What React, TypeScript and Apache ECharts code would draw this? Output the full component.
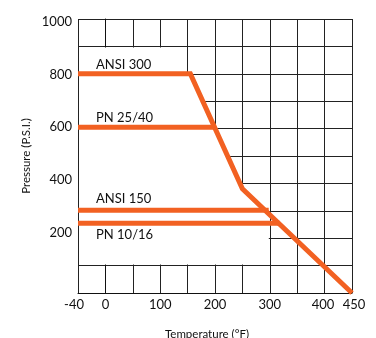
import React, { useEffect, useRef } from 'react';
import * as echarts from 'echarts';

// Temperature (°F) and pressure (P.S.I.)
const ansi300Temp = [-50, 155, 250, 450];
const ansi300Press = [800, 800, 380, 0];
const pn2540Temp = [-50, 199];
const pn2540Press = [605, 605];
const ansi150Temp = [-50, 298];
const ansi150Press = [302, 302];
const pn1016Temp = [-50, 318];
const pn1016Press = [255, 255];

const seriesNames = ['ANSI 300', 'PN 25/40', 'ANSI 150', 'PN 10/16'];

// White area hiding the grid below the curves (data coordinates)
const maskTemp = [-50, 150, 150, 155, 250, 293, 300, 300, -50];
const maskPress = [900, 900, 800, 800, 380, 300, 300, 100, 100];

const xTickValues = [-50, 0, 100, 200, 300, 400, 450];
const xTickTexts = ['-40', '0', '100', '200', '300', '400', '450'];
const yTickValues = [200, 400, 600, 800, 1000];

const ORANGE = '#F26122';
const FONT = 'Lato';

const zip = (a: number[], b: number[]) => a.map((v, i) => [v, b[i]]);

export default function App() {
  const ref = useRef<HTMLDivElement>(null);
  useEffect(() => {
    if (!ref.current) return;
    const chart = echarts.init(ref.current, undefined, { renderer: 'svg' });
    const lines = [
      zip(ansi300Temp, ansi300Press),
      zip(pn2540Temp, pn2540Press),
      zip(ansi150Temp, ansi150Press),
      zip(pn1016Temp, pn1016Press),
    ];
    const richBase = { fontSize: 13, fontFamily: FONT, color: '#111' };
    chart.setOption({
      animation: false,
      grid: { left: 78, right: 24, top: 19, bottom: 45 },
      xAxis: {
        type: 'value',
        min: -50,
        max: 450,
        interval: 50,
        axisLine: { show: true, lineStyle: { color: '#111', width: 1 } },
        axisTick: { show: false },
        splitLine: { show: true, lineStyle: { color: '#222', width: 1 } },
        axisLabel: {
          show: true,
          margin: 4,
          showMinLabel: true,
          showMaxLabel: true,
          fontSize: 13,
          fontFamily: FONT,
          color: '#111',
          formatter: (v: number) => {
            const i = xTickValues.indexOf(v);
            if (i < 0) return '';
            const t = xTickTexts[i];
            if (i === 0) return `{a|${t}}`;
            if (i === xTickValues.length - 2) return `{b|${t}}`;
            if (i === xTickValues.length - 1) return `{c|${t}}`;
            return `{n|${t}}`;
          },
          rich: {
            a: { ...richBase, padding: [0, 8, 0, 0] },
            b: { ...richBase, padding: [0, 3, 0, 0] },
            c: { ...richBase, padding: [0, 0, 0, 4] },
            n: { ...richBase },
          },
        },
      },
      yAxis: [
        {
          type: 'value',
          min: 0,
          max: 1000,
          interval: 100,
          axisLine: { show: true, lineStyle: { color: '#111', width: 1 } },
          axisTick: { show: false },
          axisLabel: { show: false },
          splitLine: { show: true, lineStyle: { color: '#222', width: 1 } },
        },
        {
          type: 'value',
          position: 'left',
          min: -29.5,
          max: 1006.4,
          axisLine: { show: false },
          axisTick: { show: false },
          splitLine: { show: false },
          axisLabel: {
            show: true,
            margin: 6,
            fontSize: 13,
            fontFamily: FONT,
            color: '#111',
            customValues: yTickValues,
            formatter: (v: number) => String(v),
          },
        },
      ],
      series: [
        {
          type: 'custom',
          z: 1,
          silent: true,
          data: [[maskTemp[0], maskPress[0]]],
          renderItem: (_params: any, api: any) => {
            const pts = maskTemp.map((t, i) => {
              const p = api.coord([t, maskPress[i]]);
              let x = p[0];
              let y = p[1];
              if (t === -50) x += 1;
              if (t === 150 || t === 300) x -= 1;
              if (maskPress[i] === 900) y += 1;
              if (maskPress[i] === 100) y -= 1;
              return [x, y];
            });
            return {
              type: 'polygon',
              shape: { points: pts },
              style: { fill: '#ffffff', stroke: null },
            };
          },
        },
        ...lines.map((d, i) => ({
          type: 'line',
          name: seriesNames[i],
          data: d,
          z: 3,
          symbol: 'none',
          lineStyle: { color: ORANGE, width: 5, cap: 'butt', join: 'miter' },
        })),
      ],
    });

    const offsets = [
      [18, -10],
      [18, -10.5],
      [18, -12],
      [18, 10.5],
    ];
    const labelGraphics = lines.map((d, i) => {
      const p = chart.convertToPixel({ xAxisIndex: 0, yAxisIndex: 0 }, d[0]) as number[];
      return {
        type: 'text',
        x: p[0] + offsets[i][0],
        y: p[1] + offsets[i][1],
        z: 10,
        style: {
          text: seriesNames[i],
          fontSize: 13,
          fontFamily: FONT,
          fill: '#111',
          textAlign: 'left',
          textVerticalAlign: 'middle',
        },
      };
    });
    chart.setOption({
      graphic: [
        ...labelGraphics,
        {
          type: 'text',
          x: 25,
          y: 156,
          rotation: Math.PI / 2,
          style: {
            text: 'Pressure (P.S.I.)',
            fontSize: 11.5,
            fontFamily: FONT,
            fill: '#111',
            textAlign: 'center',
            textVerticalAlign: 'middle',
          },
        },
        {
          type: 'text',
          x: 207,
          y: 333,
          style: {
            text: 'Temperature (°F)',
            fontSize: 11.5,
            fontFamily: FONT,
            fill: '#111',
            textAlign: 'center',
            textVerticalAlign: 'middle',
          },
        },
      ],
    });
    return () => chart.dispose();
  }, []);
  return (
    <div
      ref={ref}
      style={{ position: 'fixed', left: 0, top: 0, width: 376, height: 338 }}
    />
  );
}
